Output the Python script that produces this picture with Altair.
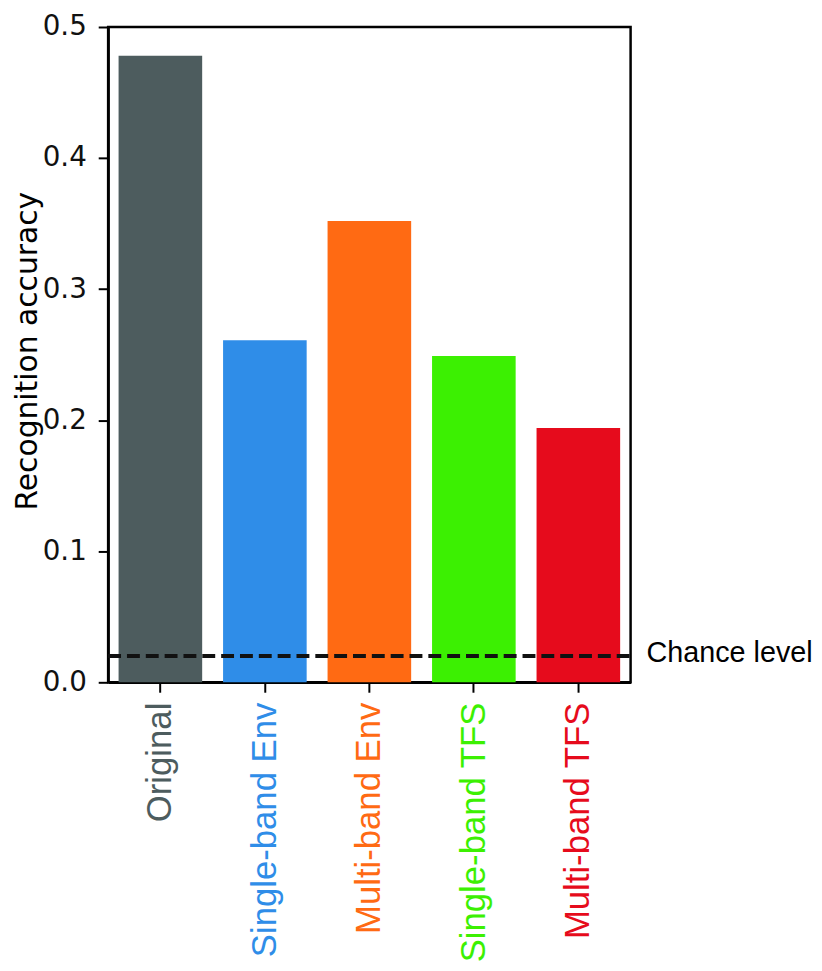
import altair as alt
import pandas as pd

categories = ["Original", "Single-band Env", "Multi-band Env", "Single-band TFS", "Multi-band TFS"]
accuracy = [0.478, 0.261, 0.352, 0.249, 0.194]
bar_colors = ["#4d5c5e", "#2f8de8", "#ff6a13", "#3cf002", "#e60b1c"]
chance_level = [0.02]
chance_label = ["Chance level"]
y_ticks = [0.0, 0.1, 0.2, 0.3, 0.4, 0.5]

df = pd.DataFrame({"condition": categories, "accuracy": accuracy})
chance_df = pd.DataFrame({"accuracy": chance_level, "label": chance_label})

color_expr = " : ".join(
    f"datum.value == '{c}' ? '{col}'" for c, col in zip(categories, bar_colors)
) + " : 'black'"

PLOT_W = 527
PLOT_H = 661

y_enc = alt.Y(
    "accuracy:Q",
    scale=alt.Scale(domain=[0, 0.5], nice=False, zero=True),
    axis=alt.Axis(
        values=y_ticks,
        format=".1f",
        labelFont="DejaVu Sans",
        labelFontSize=28,
        labelColor="#111111",
        tickSize=10,
        tickWidth=2,
        tickColor="black",
        labelPadding=12,
        domainColor="black",
        domainWidth=2.5,
        grid=False,
        title="Recognition accuracy",
        titleFont="DejaVu Sans",
        titleFontSize=30,
        titleFontWeight="normal",
        titleColor="black",
        titleAngle=-90,
        titleAlign="center",
        titleBaseline="alphabetic",
        titleX=-72,
        titleY=PLOT_H / 2 - 4,
    ),
)

bars = alt.Chart(df).mark_bar().encode(
    x=alt.X(
        "condition:N",
        sort=categories,
        scale=alt.Scale(paddingInner=0.2, paddingOuter=0.1),
        axis=alt.Axis(
            title=None,
            labelAngle=-90,
            labelAlign="right",
            labelBaseline="middle",
            labelFont="Liberation Sans",
            labelFontSize=35,
            labelColor={"expr": color_expr},
            labelPadding=10,
            labelLimit=500,
            tickSize=10,
            tickWidth=2,
            tickColor="black",
            domainColor="black",
            domainWidth=2.5,
        ),
    ),
    y=y_enc,
    color=alt.Color(
        "condition:N",
        scale=alt.Scale(domain=categories, range=bar_colors),
        legend=None,
    ),
)

rule = alt.Chart(chance_df).mark_rule(
    strokeDash=[13, 6], strokeWidth=4, color="#111111"
).encode(
    y=y_enc,
    x=alt.value(0),
    x2=alt.value(PLOT_W),
)

text = alt.Chart(chance_df).mark_text(
    align="left",
    baseline="middle",
    font="Liberation Sans",
    fontSize=29,
    color="black",
    dy=-3,
).encode(
    y=y_enc,
    x=alt.value(PLOT_W + 16),
    text="label:N",
)

chart = alt.layer(bars, rule, text).properties(
    width=PLOT_W,
    height=PLOT_H,
    autosize=alt.AutoSizeParams(type="none"),
    padding={"left": 101, "top": 15, "right": 185, "bottom": 283},
).configure_view(
    stroke="black",
    strokeWidth=2.5,
)

chart.save("out.html", embed_options={"renderer": "svg", "actions": False})
